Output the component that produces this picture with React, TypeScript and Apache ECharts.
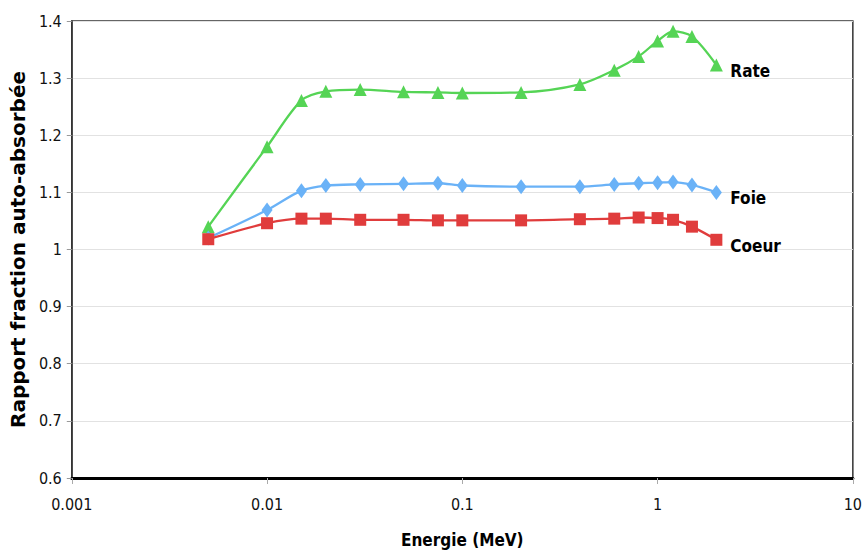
import React, { useEffect, useRef } from "react";
import * as echarts from "echarts";

const energies = [0.005, 0.01, 0.015, 0.02, 0.03, 0.05, 0.075, 0.1, 0.2, 0.4, 0.6, 0.8, 1, 1.2, 1.5, 2];
const rate = [1.04, 1.18, 1.261, 1.277, 1.28, 1.276, 1.275, 1.274, 1.275, 1.289, 1.314, 1.338, 1.365, 1.382, 1.373, 1.323];
const foie = [1.02, 1.069, 1.103, 1.112, 1.114, 1.115, 1.116, 1.112, 1.11, 1.11, 1.114, 1.116, 1.117, 1.118, 1.113, 1.1];
const coeur = [1.018, 1.046, 1.054, 1.054, 1.052, 1.052, 1.051, 1.051, 1.051, 1.053, 1.054, 1.056, 1.055, 1.052, 1.04, 1.017];
const seriesNames = ["Rate", "Foie", "Coeur"];
const xTitle = "Energie (MeV)";
const yTitle = "Rapport fraction auto-absorbée";

const pairs = (ys: number[]) => energies.map((x, i) => [x, ys[i]]);

export default function App() {
  const ref = useRef<HTMLDivElement>(null);
  useEffect(() => {
    if (!ref.current) return;
    const chart = echarts.init(ref.current, undefined, { renderer: "svg" });
    const labelFont = {
      fontFamily: "DejaVu Sans Condensed",
      fontWeight: "bold" as const,
      fontSize: 17,
      color: "#000",
    };
    const mk = (name: string, ys: number[], color: string, symbol: string, size: any) => ({
      name,
      type: "line",
      data: pairs(ys),
      smooth: 0.3,
      symbol,
      symbolSize: size,
      showAllSymbol: true,
      lineStyle: { color, width: 2.3 },
      itemStyle: { color },
      endLabel: {
        show: true,
        formatter: () => name,
        distance: 14,
        offset: [0, 6],
        ...labelFont,
      },
    });
    chart.setOption({
      animation: false,
      backgroundColor: "#fff",
      grid: {
        left: 68,
        right: 12,
        top: 21,
        bottom: 76,
        show: true,
        borderColor: "#333",
        borderWidth: 1.5,
      },
      xAxis: {
        type: "log",
        logBase: 10,
        min: 0.001,
        max: 10,
        name: xTitle,
        nameLocation: "middle",
        nameGap: 53,
        nameTextStyle: { fontFamily: "DejaVu Sans Condensed", fontWeight: "bold", fontSize: 17, color: "#000" },
        axisLine: { show: true, lineStyle: { color: "#000", width: 3 } },
        axisTick: { show: true, length: 6, lineStyle: { color: "#aaa" } },
        minorTick: { show: false },
        splitLine: { show: false },
        axisLabel: {
          margin: 18,
          fontFamily: "DejaVu Sans Condensed",
          fontSize: 16,
          color: "#111",
          formatter: (v: number) => {
            const e = Math.round(Math.log10(v));
            return e < 0 ? Math.pow(10, e).toFixed(-e) : String(Math.pow(10, e));
          },
        },
      },
      yAxis: {
        type: "value",
        min: 0.6,
        max: 1.4,
        interval: 0.1,
        name: yTitle,
        nameLocation: "middle",
        nameGap: 42,
        nameTextStyle: { fontFamily: "DejaVu Sans", fontWeight: "bold", fontSize: 20, color: "#000" },
        axisLine: { show: true, lineStyle: { color: "#333", width: 1.5 } },
        axisTick: { show: true, length: 5, lineStyle: { color: "#999" } },
        splitLine: { show: true, lineStyle: { color: "#e2e2e2", width: 1 } },
        axisLabel: {
          margin: 10,
          fontFamily: "DejaVu Sans Condensed",
          fontSize: 16,
          color: "#111",
          formatter: (v: number) => String(parseFloat(v.toFixed(1))),
        },
      },
      series: [
        mk(seriesNames[0], rate, "#55d455", "triangle", [13, 13]),
        mk(seriesNames[1], foie, "#6ab2f7", "diamond", [11, 15]),
        mk(seriesNames[2], coeur, "#e03c3c", "rect", [12, 12]),
      ],
    });
    return () => chart.dispose();
  }, []);
  return (
    <div
      ref={ref}
      style={{ position: "absolute", left: 0, top: 0, width: 865, height: 554 }}
    />
  );
}
